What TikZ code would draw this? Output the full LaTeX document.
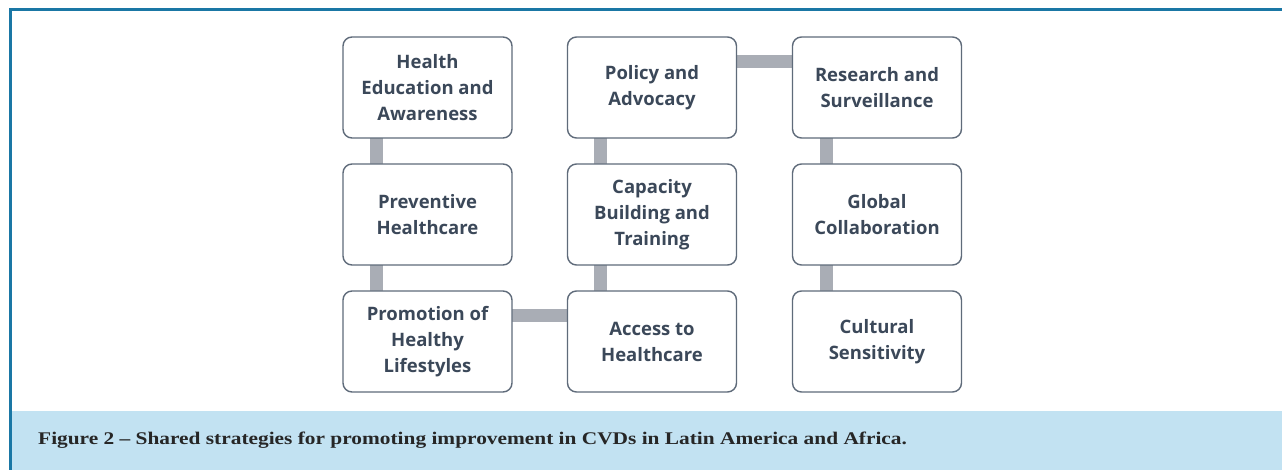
\documentclass[tikz,border=0pt]{standalone}
\usepackage{fontspec}
\setmainfont{Liberation Serif}
\newfontfamily\capfont[FakeStretch=1.2,Ligatures=TeX]{Liberation Serif}
\newfontfamily\boxfont{Open Sans}
\definecolor{frameblue}{HTML}{1A77A5}
\definecolor{capband}{HTML}{C2E2F2}
\definecolor{boxline}{HTML}{5F6B7A}
\definecolor{boxtext}{HTML}{3B4859}
\definecolor{barcol}{HTML}{A9ADB5}
\begin{document}
\begin{tikzpicture}[x=1pt,y=-1pt,
  stratbox/.style={draw=boxline, line width=1.4pt, rounded corners=9pt, fill=white,
    minimum width=169pt, minimum height=101pt, align=center, inner sep=2pt,
    font=\boxfont\bfseries\fontsize{18.5}{26}\selectfont, text=boxtext},
  bar/.style={draw=barcol, line width=13pt}]
\useasboundingbox (0,0) rectangle (1282,470);
\fill[white] (0,0) rectangle (1282,470);
\fill[capband] (12,411) rectangle (1282,470);
\draw[frameblue, line width=3pt] (10,470) -- (10,10) -- (1282,10);
% bars
\coordinate (v1a) at (376,138); \coordinate (v1b) at (376,291);
\coordinate (v2a) at (600,138); \coordinate (v2b) at (600,291);
\coordinate (v3a) at (826,138); \coordinate (v3b) at (826,291);
\draw[bar] (v1a) -- (v1b);
\draw[bar] (v2a) -- (v2b);
\draw[bar] (v3a) -- (v3b);
\coordinate (h1a) at (736,62); \coordinate (h1b) at (792,62);
\coordinate (h2a) at (512,315); \coordinate (h2b) at (568,315);
\draw[bar] (h1a) -- (h1b);
\draw[bar] (h2a) -- (h2b);
% boxes
\node[stratbox] (hea) at (427.5,87.5) {Health\\Education and\\Awareness};
\node[stratbox] (pol) at (652,87.5) {Policy and\\Advocacy};
\node[stratbox] (res) at (877,87.5) {Research and\\Surveillance};
\node[stratbox] (pre) at (427.5,214.5) {Preventive\\Healthcare};
\node[stratbox] (cap) at (652,214.5) {Capacity\\Building and\\Training};
\node[stratbox] (glo) at (877,214.5) {Global\\Collaboration};
\node[stratbox] (pro) at (427.5,341.5) {Promotion of\\Healthy\\Lifestyles};
\node[stratbox] (acc) at (652,341.5) {Access to\\Healthcare};
\node[stratbox] (cul) at (877,341.5) {Cultural\\Sensitivity};
% caption
\node[anchor=west, inner sep=0pt, font=\capfont\bfseries\fontsize{17.8}{20}\selectfont, text=black!85] (capt) at (38,440)
 {Figure 2 – Shared strategies for promoting improvement in CVDs in Latin America and Africa.};
\end{tikzpicture}
\end{document}
